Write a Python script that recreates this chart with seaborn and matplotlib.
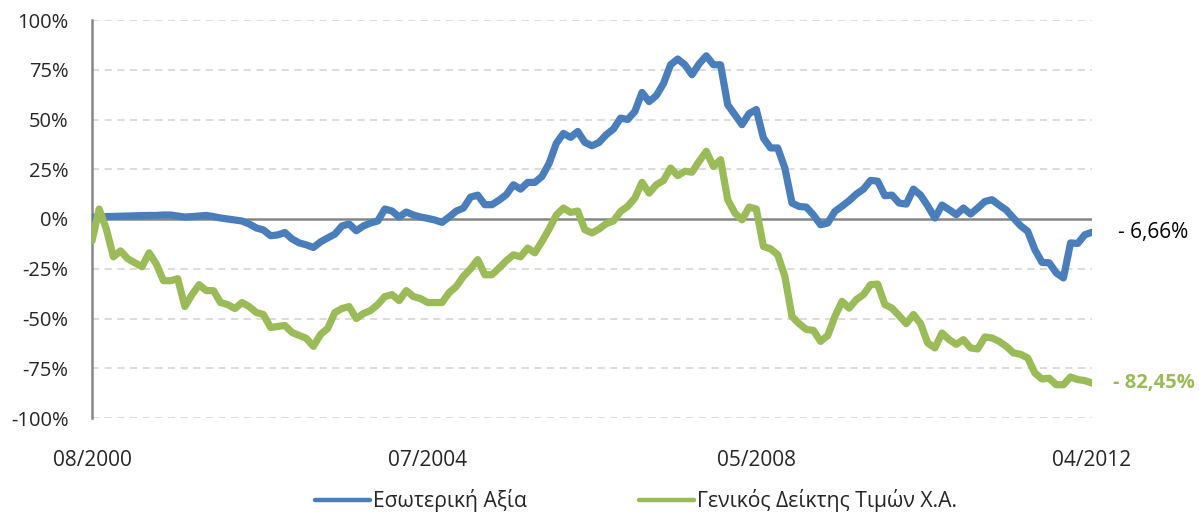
import matplotlib
matplotlib.use("Agg")
import matplotlib.pyplot as plt
import seaborn as sns
import pandas as pd
import numpy as np

# monthly values, 08/2000 .. 04/2012 (141 months), in %
esoteriki = [
    0.8, 1.0, 1.2, 1.3, 1.4, 1.5, 1.6, 1.7, 1.8, 1.8,
    2.0, 2.0, 1.5, 1.0, 1.2, 1.5, 1.8, 1.2, 0.5, 0.0,
    -0.5, -1.0, -2.5, -4.5, -5.5, -8.4, -8.0, -6.8, -10.0, -12.0,
    -13.0, -14.3, -11.5, -9.5, -7.6, -3.5, -2.5, -5.9, -3.5, -2.0,
    -1.0, 5.0, 4.0, 1.0, 3.5, 2.0, 1.0, 0.3, -0.5, -1.7,
    1.0, 4.0, 5.5, 11.0, 12.0, 7.2, 7.2, 9.5, 12.2, 17.2,
    15.0, 18.4, 18.4, 21.4, 28.0, 38.0, 43.0, 41.0, 44.0, 38.5,
    36.8, 38.5, 42.4, 45.2, 50.7, 50.0, 54.0, 63.6, 59.0, 62.0,
    68.0, 77.5, 80.4, 77.5, 72.5, 78.0, 82.0, 77.5, 77.5, 57.4,
    52.4, 47.4, 53.0, 55.0, 40.7, 35.7, 35.7, 25.6, 8.0, 6.3,
    6.0, 2.0, -2.9, -2.0, 3.8, 6.4, 9.2, 12.5, 15.0, 19.4,
    19.0, 11.7, 12.0, 8.0, 7.5, 15.0, 12.0, 6.6, 0.5, 7.0,
    4.7, 2.2, 5.5, 2.5, 5.5, 8.8, 9.7, 7.0, 4.5, 0.5,
    -3.4, -6.2, -15.4, -21.8, -22.0, -27.1, -29.6, -12.0, -12.3, -7.9,
    -6.66,
]
genikos = [
    -11.0, 5.0, -5.0, -19.0, -16.0, -20.0, -22.0, -24.0, -17.0, -22.6,
    -31.0, -31.0, -30.0, -44.0, -38.0, -33.0, -36.0, -36.0, -42.0, -43.0,
    -45.0, -42.0, -44.0, -47.0, -48.0, -54.5, -54.0, -53.5, -57.0, -58.5,
    -60.0, -64.0, -58.0, -55.0, -47.0, -45.0, -44.0, -50.0, -47.5, -46.0,
    -43.0, -39.0, -38.0, -41.0, -36.0, -39.0, -40.0, -42.0, -42.0, -42.0,
    -37.0, -33.9, -28.8, -25.0, -20.4, -28.0, -28.0, -24.6, -21.0, -18.0,
    -19.0, -14.6, -17.0, -11.2, -5.0, 2.0, 5.5, 3.3, 4.0, -5.4,
    -7.0, -5.0, -2.3, -1.0, 3.8, 6.4, 10.5, 18.4, 13.0, 17.2,
    19.3, 25.6, 21.8, 24.0, 23.5, 29.0, 34.0, 26.4, 29.8, 9.7,
    3.0, -0.4, 6.0, 5.0, -13.8, -15.0, -18.0, -28.8, -49.0, -52.6,
    -55.5, -56.0, -61.5, -58.6, -49.0, -41.4, -44.8, -40.5, -38.0, -33.0,
    -32.7, -43.0, -44.8, -48.6, -52.6, -48.0, -52.6, -62.3, -64.8, -57.3,
    -60.6, -63.0, -60.6, -64.8, -65.3, -59.3, -59.8, -61.5, -64.0, -67.3,
    -68.0, -69.8, -77.4, -80.4, -80.0, -83.3, -83.3, -79.4, -80.7, -81.2,
    -82.45,
]
series_names = ["Εσωτερική Αξία", "Γενικός Δείκτης Τιμών Χ.Α."]
tick_pos = [0, 47, 93, 140]
tick_labels = ["08/2000", "07/2004", "05/2008", "04/2012"]
end_labels = ["- 6,66%", "- 82,45%"]

blue = "#4a7ebb"
green = "#9bbb59"

sns.set_style("white")
plt.rcParams["font.family"] = ["Open Sans", "DejaVu Sans"]

n = len(esoteriki)
df = pd.DataFrame({
    "month": list(range(n)) * 2,
    "value": esoteriki + genikos,
    "series": [series_names[0]] * n + [series_names[1]] * n,
})

fig = plt.figure(figsize=(11.99, 5.17), dpi=100)
ax = fig.add_axes([92 / 1199, 1 - 418 / 517, 1000 / 1199, 398 / 517])

# grid
for v in [-100, -75, -50, -25, 25, 50, 75, 100]:
    ax.axhline(v, color="#d9d9d9", lw=1.3, ls=(0, (4, 3)), zorder=0)
ax.axhline(0, color="#868686", lw=1.8, zorder=1)

sns.lineplot(data=df, x="month", y="value", hue="series",
             palette=[blue, green], linewidth=5.2, ax=ax, legend=False,
             zorder=3)
for ln in ax.lines[-2:]:
    ln.set_solid_capstyle("round")
    ln.set_solid_joinstyle("round")

ax.set_xlim(0, n - 1)
ax.set_ylim(-100, 100)
ax.set_yticks(range(-100, 101, 25))
ax.set_yticklabels([f"{v}%" for v in range(-100, 101, 25)], fontsize=14.5)
ax.set_xticks(tick_pos)
ax.set_xticklabels(tick_labels, fontsize=15)
ax.tick_params(axis="x", length=0, pad=23)
ax.tick_params(axis="y", length=0, pad=17)
ax.set_xlabel("")
ax.set_ylabel("")
for s in ["top", "right", "bottom"]:
    ax.spines[s].set_visible(False)
ax.spines["left"].set_color("#868686")
ax.spines["left"].set_linewidth(1.8)

ax.annotate(end_labels[0], xy=(n - 1, esoteriki[-1]), xytext=(19, 0),
            textcoords="offset points", va="center", ha="left",
            fontsize=15, color="black", annotation_clip=False)
ax.annotate(end_labels[1], xy=(n - 1, genikos[-1]), xytext=(15, 0),
            textcoords="offset points", va="center", ha="left",
            fontsize=14.5, color=green, fontweight="bold", annotation_clip=False)

handles = [plt.Line2D([], [], color=blue, lw=3.2),
           plt.Line2D([], [], color=green, lw=3.2)]
fig.legend(handles, series_names, loc="center", ncol=2, frameon=False,
           bbox_to_anchor=(636 / 1199, 1 - 501 / 517), fontsize=15.2,
           handlelength=2.6, handletextpad=0.15, columnspacing=5.3)

fig.savefig("out.png", dpi=100)
